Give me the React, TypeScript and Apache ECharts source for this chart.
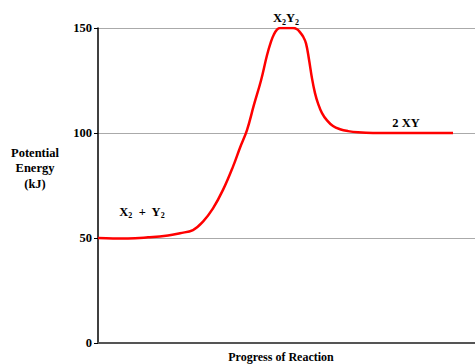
import React, { useEffect, useRef } from "react";
import * as echarts from "echarts";

const progress = [0, 15, 30, 50, 70, 82, 95, 105, 115, 125, 135, 142, 149, 156, 163, 169, 173, 176, 179, 182, 188, 195, 199, 202, 205, 208, 211, 214, 217, 220, 224, 229, 235, 242, 250, 260, 275, 300, 355];
const energy = [50, 49.8, 49.8, 50.3, 51.2, 52.3, 53.8, 57.8, 64.1, 72.9, 84, 93, 101.4, 113.5, 125, 137, 143.5, 147, 149.2, 150, 150, 150, 149.4, 148, 146, 142.7, 135, 126, 119, 114.1, 109.5, 106, 103.3, 101.8, 100.9, 100.3, 100, 100, 100];
const yTicks = [0, 50, 100, 150];
const annotations = [
  { coord: [44, 62.4], text: "{b|X}{s|2}{b|  +  Y}{s|2}", pos: "inside" },
  { coord: [188, 150], text: "{b|X}{s|2}{b|Y}{s|2}", pos: "top" },
  { coord: [308, 100], text: "{b|2 XY}", pos: "top" },
];

const FONT = "'Liberation Serif', 'Times New Roman', serif";

export default function App() {
  const ref = useRef<HTMLDivElement>(null);
  useEffect(() => {
    const chart = echarts.init(ref.current!, null, { renderer: "svg" });
    const rich = {
      b: { fontFamily: FONT, fontWeight: "bold", fontSize: 12.5, color: "#000", lineHeight: 16 },
      s: { fontFamily: FONT, fontWeight: "bold", fontSize: 8, color: "#000", lineHeight: 8, verticalAlign: "bottom" },
    };
    chart.setOption({
      animation: false,
      grid: { left: 98, right: 0, top: 28, bottom: 21 },
      xAxis: {
        type: "value",
        min: 0,
        max: 377,
        axisLine: { show: true, lineStyle: { color: "#555", width: 2 } },
        axisTick: { show: false },
        axisLabel: { show: false },
        splitLine: { show: false },
      },
      yAxis: {
        type: "value",
        min: yTicks[0],
        max: yTicks[yTicks.length - 1],
        interval: 50,
        axisLine: { show: true, lineStyle: { color: "#000", width: 1.5 } },
        axisTick: { show: true, length: 4, lineStyle: { color: "#000" } },
        axisLabel: { color: "#000", fontFamily: FONT, fontWeight: "bold", fontSize: 12.5, margin: 6 },
        splitLine: { show: true, lineStyle: { color: "#aaa", width: 1 } },
      },
      series: [
        {
          type: "line",
          data: progress.map((p, i) => [p, energy[i]]),
          smooth: 0.4,
          symbol: "none",
          lineStyle: { color: "#ff0000", width: 2.5 },
          markPoint: {
            symbol: "circle",
            symbolSize: 0,
            data: annotations.map((a) => ({
              coord: a.coord,
              label: {
                show: true,
                position: a.pos,
                distance: 2,
                formatter: a.text,
                rich,
              },
            })),
          },
        },
      ],
      graphic: [
        {
          type: "text",
          x: 35,
          y: 145,
          style: {
            text: "Potential\nEnergy\n(kJ)",
            fontFamily: FONT,
            fontWeight: "bold",
            fontSize: 12.5,
            lineHeight: 15.5,
            fill: "#000",
            align: "center",
          },
        },
        {
          type: "text",
          x: 281,
          y: 357,
          style: {
            text: "Progress of Reaction",
            fontFamily: FONT,
            fontWeight: "bold",
            fontSize: 12,
            fill: "#000",
            align: "center",
            verticalAlign: "middle",
          },
        },
      ],
    });
    return () => chart.dispose();
  }, []);
  return <div ref={ref} style={{ width: 475, height: 364, position: "absolute", left: 0, top: 0 }} />;
}
